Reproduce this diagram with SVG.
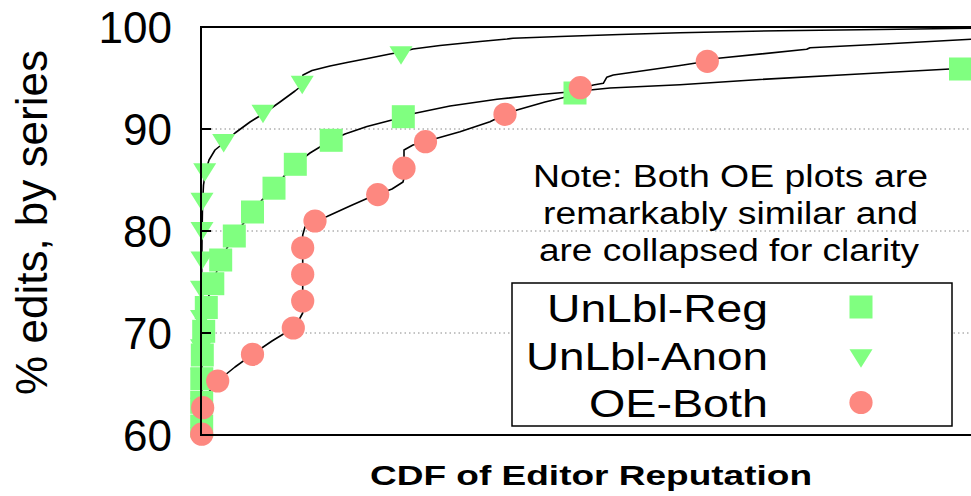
<svg xmlns="http://www.w3.org/2000/svg" xmlns:xlink="http://www.w3.org/1999/xlink" width="971" height="496" viewBox="0 0 971 496">
<style>
.grid{stroke:#888;stroke-width:1;stroke-dasharray:1.5,3;fill:none}
.border{stroke:#000;stroke-width:2;fill:none}
.curve{stroke:#000;stroke-width:1.6;fill:none;stroke-linejoin:round}
.reg{fill:#80ff80}
.anon{fill:#80ff80}
.oe{fill:#fd8880}
.t{font-family:"Liberation Sans",Arial,sans-serif;fill:#000}
.tick{font-size:44px;text-anchor:end}
.leg{font-size:38px}
.note{font-size:31px}
.xl{font-size:28px;font-weight:bold}
</style>
<defs>
<rect id="sq" x="-11.5" y="-11.5" width="23" height="23"/>
<polygon id="tri" points="-11.5,-9.2 11.5,-9.2 0,9.2"/>
<circle id="dot" r="11.6"/>
</defs>
<rect width="971" height="496" fill="#fff"/>
<g id="grid">
<line class="grid" x1="211" y1="129" x2="971" y2="129"/>
<line class="grid" x1="211" y1="231" x2="971" y2="231"/>
<line class="grid" x1="211" y1="333" x2="971" y2="333"/>
</g>
<g id="connectors">
<polyline id="curve-anon" class="curve" points="201.5,435 201.5,290 202,240 202.5,205 203.5,185 205.5,172 209,160 215,150 223.7,143 235,133 250,122 263,114 280,102 295,91 300,87 303,75 312,70.5 330,66 347,62.5 370,58 390,54 401,52 413,49 440,45.5 480,41.5 507,39 513,38.3 560,36.5 620,34.5 680,32.7 780,30.7 880,29.5 971,28.3"/>
<polyline id="curve-reg" class="curve" points="201.5,435 201.5,400 202,360 203,335 204.5,320 206.3,307.5 209,295 212.8,283.7 216.5,272 220.7,260 227,248 234.3,236 243,224 252.5,212 262,200 274,188 285,175 295.3,164.3 310,153 331,140.3 345,134 367,126.5 392,120 403.3,116.7 415,113.3 450,106 497,99.3 540,94.5 575,91.5 610,88 680,84.7 760,79.5 850,74.5 950,69"/>
<polyline id="curve-oe" class="curve" points="201.7,435 202.7,407.7 208,393 217.7,381 235,367 252.5,354.3 272,341 293.3,328 300,318 302.7,313 302.7,248 302.7,235 305,227 315,221 327,216.5 350,206 367,198.5 377.7,194.5 392,189 403,182 404,178 404,150 413,145 425.5,141.7 437,138.3 460,131.7 490,121.7 505,114.3 517,110 545,102 567,96.7 580.3,89 593.3,85 603.3,83.3 606.7,77.3 613.3,75 680,65.5 707.3,61.3 718.3,58.3 806.7,49.3 810,47.7 880,44.3 971,39.3"/>
</g>
<g id="series-anon" class="anon">
<use xlink:href="#tri" x="401" y="55.5"/>
<use xlink:href="#tri" x="302.2" y="85"/>
<use xlink:href="#tri" x="263" y="114"/>
<use xlink:href="#tri" x="223.7" y="143.3"/>
<use xlink:href="#tri" x="204.7" y="172.5"/>
<use xlink:href="#tri" x="202" y="202"/>
<use xlink:href="#tri" x="202" y="231.3"/>
<use xlink:href="#tri" x="202" y="260.6"/>
<use xlink:href="#tri" x="201.5" y="290"/>
<use xlink:href="#tri" x="201.5" y="319.2"/>
<use xlink:href="#tri" x="201.5" y="348.5"/>
<use xlink:href="#tri" x="201.5" y="377.8"/>
<use xlink:href="#tri" x="201.5" y="407"/>
<use xlink:href="#tri" x="201.5" y="436.4"/>
</g>
<g id="series-reg" class="reg">
<use xlink:href="#sq" x="960.5" y="69"/>
<use xlink:href="#sq" x="575" y="93"/>
<use xlink:href="#sq" x="403.3" y="116.7"/>
<use xlink:href="#sq" x="331.2" y="140.3"/>
<use xlink:href="#sq" x="295.3" y="164.3"/>
<use xlink:href="#sq" x="274" y="188.2"/>
<use xlink:href="#sq" x="252.5" y="212"/>
<use xlink:href="#sq" x="234.3" y="236"/>
<use xlink:href="#sq" x="220.7" y="260"/>
<use xlink:href="#sq" x="212.8" y="283.7"/>
<use xlink:href="#sq" x="206.3" y="307.5"/>
<use xlink:href="#sq" x="203.7" y="331.3"/>
<use xlink:href="#sq" x="202.3" y="355"/>
<use xlink:href="#sq" x="201.8" y="378.7"/>
<use xlink:href="#sq" x="201.7" y="402.3"/>
<use xlink:href="#sq" x="201.7" y="426"/>
</g>
<g id="series-oe" class="oe">
<use xlink:href="#dot" x="707.3" y="61.3"/>
<use xlink:href="#dot" x="580.3" y="87.7"/>
<use xlink:href="#dot" x="505" y="114.3"/>
<use xlink:href="#dot" x="425.5" y="141.7"/>
<use xlink:href="#dot" x="404" y="168.2"/>
<use xlink:href="#dot" x="377.7" y="194.6"/>
<use xlink:href="#dot" x="315" y="221"/>
<use xlink:href="#dot" x="302.7" y="247.8"/>
<use xlink:href="#dot" x="302.7" y="274.3"/>
<use xlink:href="#dot" x="302.7" y="301"/>
<use xlink:href="#dot" x="293.3" y="328"/>
<use xlink:href="#dot" x="252.5" y="354.3"/>
<use xlink:href="#dot" x="217.7" y="381"/>
<use xlink:href="#dot" x="202.7" y="407.7"/>
<use xlink:href="#dot" x="201.7" y="434.2"/>
</g>
<g id="axes">
<polyline class="border" points="972,27 201,27 201,435 972,435"/>
<line class="border" x1="201" y1="129" x2="211" y2="129"/>
<line class="border" x1="201" y1="231" x2="211" y2="231"/>
<line class="border" x1="201" y1="333" x2="211" y2="333"/>
<text class="t tick" x="172" y="42.5">100</text>
<text class="t tick" x="172" y="144.5">90</text>
<text class="t tick" x="172" y="246.5">80</text>
<text class="t tick" x="172" y="348.5">70</text>
<text class="t tick" x="172" y="450.5">60</text>
<text class="t" font-size="44" transform="translate(46.5,222.5) rotate(-90)" text-anchor="middle">% edits, by series</text>
<text class="t xl" x="370" y="485" textLength="442" lengthAdjust="spacingAndGlyphs">CDF of Editor Reputation</text>
</g>
<g id="note">
<text class="t note" x="533" y="187" textLength="395" lengthAdjust="spacingAndGlyphs">Note: Both OE plots are</text>
<text class="t note" x="543" y="224" textLength="375" lengthAdjust="spacingAndGlyphs">remarkably similar and</text>
<text class="t note" x="539" y="261" textLength="380" lengthAdjust="spacingAndGlyphs">are collapsed for clarity</text>
</g>
<g id="legend">
<rect x="512" y="283" width="440" height="143" fill="#fff" stroke="#000" stroke-width="1.5"/>
<text class="t leg" x="547" y="322" textLength="221" lengthAdjust="spacingAndGlyphs">UnLbl-Reg</text>
<text class="t leg" x="526" y="370" textLength="242" lengthAdjust="spacingAndGlyphs">UnLbl-Anon</text>
<text class="t leg" x="589" y="417" textLength="179" lengthAdjust="spacingAndGlyphs">OE-Both</text>
<use xlink:href="#sq" x="861" y="307" class="reg"/>
<use xlink:href="#tri" x="861" y="358.5" class="anon"/>
<use xlink:href="#dot" x="861" y="402.5" class="oe"/>
</g>
</svg>
